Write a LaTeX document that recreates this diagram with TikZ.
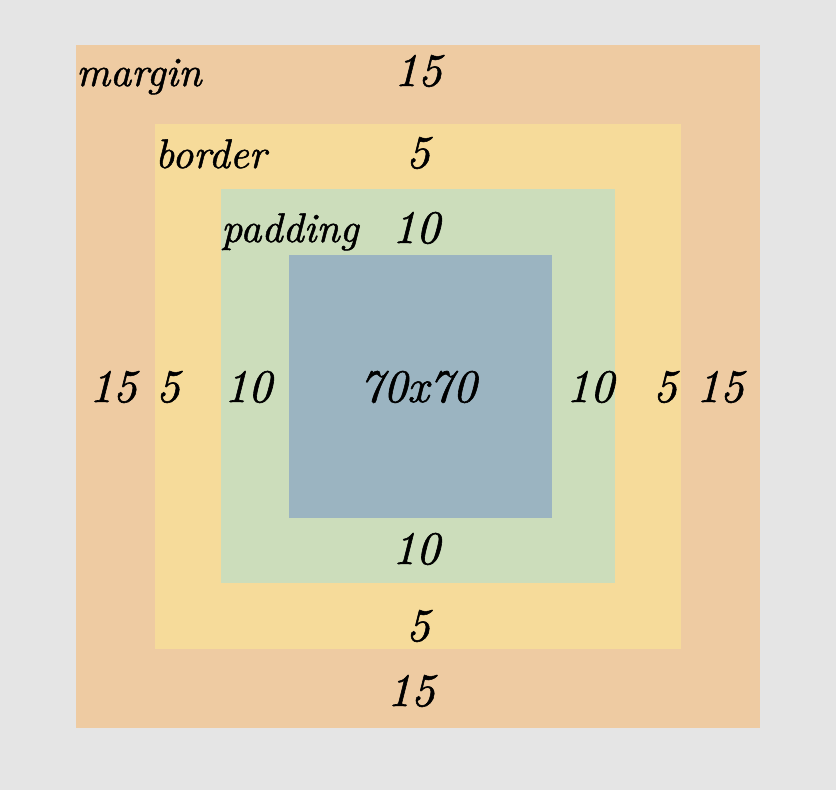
\documentclass[tikz,border=0pt]{standalone}
\usepackage{fontspec}
\newfontfamily\lblfont{lmroman10-italic.otf}[FakeBold=1.2]
\definecolor{bgc}{HTML}{E5E5E5}
\definecolor{marginc}{HTML}{EECBA2}
\definecolor{borderc}{HTML}{F6DB9A}
\definecolor{paddingc}{HTML}{CCDDBB}
\definecolor{contentc}{HTML}{9BB4C1}
\begin{document}
\begin{tikzpicture}[x=0.75pt,y=-0.75pt,
  lbl/.style={inner sep=0pt,anchor=base,font=\lblfont\fontsize{35}{40}\selectfont},
  lbll/.style={inner sep=0pt,anchor=base west,font=\lblfont\fontsize{31}{36}\selectfont}]
\fill[bgc] (0,0) rectangle (836,790);
\useasboundingbox (0,0) rectangle (836,790);
\fill[marginc] (76,45) rectangle (760,728);
\fill[borderc] (155,124) rectangle (681,649);
\fill[paddingc] (221,189) rectangle (615,583);
\fill[contentc] (289,255) rectangle (552,518);
% labels
\node[lbll] (mlab) at (76,86) {margin};
\node[lbll] (blab) at (155,168) {border};
\node[lbll] (plab) at (221,242) {padding};
\node[lbl] (mt) at (418,86) {15};
\node[lbl] (bt) at (418,168) {5};
\node[lbl] (pt) at (416,243) {10};
\node[lbl] (c) at (418,402) {70x70};
\node[lbl] (ml) at (113,402) {15};
\node[lbl] (bl) at (168,402) {5};
\node[lbl] (pl) at (248,402) {10};
\node[lbl] (pr) at (590,402) {10};
\node[lbl] (br) at (665,402) {5};
\node[lbl] (mr) at (720,402) {15};
\node[lbl] (pb) at (416,564) {10};
\node[lbl] (bb) at (418,641) {5};
\node[lbl] (mb) at (411,706) {15};
\end{tikzpicture}
\end{document}
